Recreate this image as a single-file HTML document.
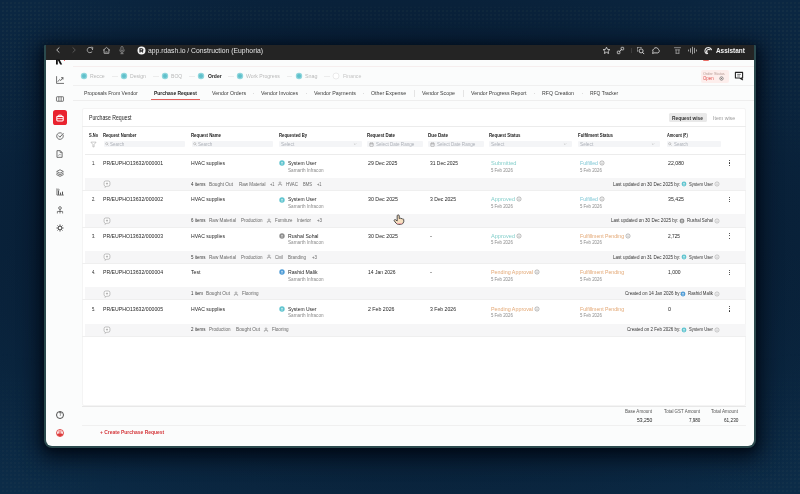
<!DOCTYPE html>
<html>
<head>
<meta charset="utf-8">
<title>Purchase Request</title>
<style>
*{box-sizing:border-box;margin:0;padding:0}
html,body{width:800px;height:494px;overflow:hidden}
body{font-family:"Liberation Sans",sans-serif;background:#0a2641;position:relative;color:#222}
#c{position:absolute;left:0;top:0;width:800px;height:494px;overflow:hidden;filter:blur(.3px)}
#bg{position:absolute;left:0;top:0;width:800px;height:494px;
 background:
  radial-gradient(ellipse 560px 330px at 400px 250px, rgba(2,12,28,.45) 0%, rgba(2,12,28,.35) 60%, rgba(2,12,28,0) 100%),
  linear-gradient(180deg,#0b2742 0%,#0b2843 50%,#0c2c48 100%);}
.dots{position:absolute;left:0;top:0;width:800px;height:494px;background-image:radial-gradient(circle,rgba(120,135,105,.30) .4px,rgba(0,0,0,0) .8px);background-size:4px 4px;background-position:1px 1px;
-webkit-mask-image:radial-gradient(circle 130px at 0 40px,#000 25%,rgba(0,0,0,0) 100%),radial-gradient(circle 130px at 800px 40px,#000 20%,rgba(0,0,0,0) 100%),radial-gradient(circle 120px at 0 470px,rgba(0,0,0,.7) 20%,rgba(0,0,0,0) 100%),radial-gradient(circle 120px at 800px 470px,rgba(0,0,0,.8) 20%,rgba(0,0,0,0) 100%),linear-gradient(180deg,rgba(0,0,0,0) 0,rgba(0,0,0,0) 6px,rgba(0,0,0,.8) 8px,rgba(0,0,0,.7) 20px,rgba(0,0,0,0) 32px);
mask-image:radial-gradient(circle 130px at 0 40px,#000 25%,rgba(0,0,0,0) 100%),radial-gradient(circle 130px at 800px 40px,#000 20%,rgba(0,0,0,0) 100%),radial-gradient(circle 120px at 0 470px,rgba(0,0,0,.7) 20%,rgba(0,0,0,0) 100%),radial-gradient(circle 120px at 800px 470px,rgba(0,0,0,.8) 20%,rgba(0,0,0,0) 100%),linear-gradient(180deg,rgba(0,0,0,0) 0,rgba(0,0,0,0) 6px,rgba(0,0,0,.8) 8px,rgba(0,0,0,.7) 20px,rgba(0,0,0,0) 32px)}
#win{position:absolute;left:44px;top:45px;width:712px;height:403px;background:#2b4a4e;border-radius:1px 1px 8px 8px;box-shadow:0 5px 20px 5px rgba(1,8,20,.85),0 2px 6px rgba(1,8,20,.6)}
#page{position:absolute;left:46px;top:59px;width:708px;height:387px;background:#fbfcfc;border-radius:0 0 6px 6px}
.t{position:absolute;white-space:nowrap;line-height:1;transform-origin:0 0}
.r{position:absolute}
svg{overflow:visible}
</style>
</head>
<body>
<div id="c">
<div id="bg"></div>
<div class="dots"></div>
<div id="win"></div>
<div id="page"></div>
<div class="r" style="left:46.00px;top:45.00px;width:708.00px;height:14.50px;background:#242424;border-radius:0px;"></div>
<svg class="r" style="left:54.40px;top:46.40px;" width="8" height="8" viewBox="-4.0 -4.0 8 8"><path d="M1.1,-2.3 L-1.3,0 L1.1,2.3" fill="none" stroke="#c8c8c8" stroke-width=".9" stroke-linecap="round" stroke-linejoin="round"/></svg>
<svg class="r" style="left:70.40px;top:46.40px;" width="8" height="8" viewBox="-4.0 -4.0 8 8"><path d="M-1.1,-2.3 L1.3,0 L-1.1,2.3" fill="none" stroke="#5c5c5c" stroke-width=".9" stroke-linecap="round" stroke-linejoin="round"/></svg>
<svg class="r" style="left:86.00px;top:46.40px;" width="8" height="8" viewBox="-4.0 -4.0 8 8"><path d="M2.6,-0.4 A2.7,2.7 0 1 0 1.9,1.9" fill="none" stroke="#c4c4c4" stroke-width=".8" stroke-linecap="round"/><path d="M1.3,-2.8 L2.8,-2.6 L2.6,-1" fill="none" stroke="#c4c4c4" stroke-width=".7" stroke-linecap="round" stroke-linejoin="round"/></svg>
<svg class="r" style="left:101.50px;top:45.90px;" width="9" height="9" viewBox="-4.5 -4.5 9 9"><path d="M-3.2,-0.3 L0,-3.1 L3.2,-0.3 M-2.4,-0.8 L-2.4,2.8 L2.4,2.8 L2.4,-0.8" fill="none" stroke="#c4c4c4" stroke-width=".8" stroke-linecap="round" stroke-linejoin="round"/><path d="M-0.7,2.8 L-0.7,1.1 L0.7,1.1 L0.7,2.8" fill="none" stroke="#b0b0b0" stroke-width=".5"/></svg>
<svg class="r" style="left:117.60px;top:45.40px;" width="8" height="10" viewBox="-4.0 -5.0 8 10"><rect x="-1.1" y="-3.5" width="2.2" height="4.4" rx="1.1" fill="none" stroke="#9c9c9c" stroke-width=".7"/><path d="M-2.3,0 A2.3,2.3 0 0 0 2.3,0 M0,2.3 L0,3.7 M-1.2,3.7 L1.2,3.7" fill="none" stroke="#9c9c9c" stroke-width=".7" stroke-linecap="round"/></svg>
<svg class="r" style="left:136.50px;top:45.90px;" width="9" height="9" viewBox="-4.5 -4.5 9 9"><circle r="4" fill="#f6f6f6"/><path d="M-1.5,1.9 L-1.5,-1.8 L0.3,-1.8 A1.1,1.1 0 0 1 0.3,0.4 L-1.5,0.4 M-0.1,0.4 L1.5,1.9" fill="none" stroke="#222" stroke-width="1.15"/></svg>
<span class="t" style="left:148.00px;top:46.55px;font-size:29.60px;color:#e4e4e4;transform:scale(0.2299,0.25)">app.rdash.io / Construction (Euphoria)</span>
<svg class="r" style="left:601.50px;top:45.90px;" width="9" height="9" viewBox="-4.5 -4.5 9 9"><path d="M0,-3.3 L1,-1.1 L3.4,-0.9 L1.6,0.7 L2.1,3 L0,1.8 L-2.1,3 L-1.6,0.7 L-3.4,-0.9 L-1,-1.1 Z" fill="none" stroke="#d6d6d6" stroke-width=".85" stroke-linejoin="round"/></svg>
<svg class="r" style="left:615.50px;top:45.90px;" width="9" height="9" viewBox="-4.5 -4.5 9 9"><rect x="-3.2" y="0.6" width="2.6" height="2.6" rx=".5" fill="none" stroke="#d6d6d6" stroke-width=".8"/><rect x="0.6" y="-3.2" width="2.6" height="2.6" rx=".5" fill="none" stroke="#d6d6d6" stroke-width=".8"/><path d="M-1,1 L1,-1" stroke="#d6d6d6" stroke-width=".9" stroke-linecap="round"/></svg>
<div class="r" style="left:630.60px;top:47.80px;width:0.50px;height:5.40px;background:#3c3c3c;border-radius:0px;"></div>
<svg class="r" style="left:635.50px;top:45.90px;" width="9" height="9" viewBox="-4.5 -4.5 9 9"><path d="M-3,-3 L1.5,-3 M-3,-3 L-3,1.5" fill="none" stroke="#d6d6d6" stroke-width=".8" stroke-dasharray="1.2 .8"/><circle cx="0.6" cy="0.4" r="2" fill="none" stroke="#d6d6d6" stroke-width=".9"/><path d="M2,1.9 L3.4,3.3" stroke="#d6d6d6" stroke-width="1" stroke-linecap="round"/></svg>
<svg class="r" style="left:650.50px;top:45.90px;" width="10" height="9" viewBox="-5.0 -4.5 10 9"><path d="M-2,2.4 L1.8,2.4 A2,2 0 0 0 2.4,-1.2 A2.6,2.6 0 0 0 -2.2,-1.6 A2,2 0 0 0 -3,1.2 L-3.4,3 Z" fill="none" stroke="#d6d6d6" stroke-width=".9" stroke-linejoin="round"/></svg>
<svg class="r" style="left:672.50px;top:45.90px;" width="9" height="9" viewBox="-4.5 -4.5 9 9"><path d="M-3,-2.8 L3,-2.8 M-2,-0.6 L2,-0.6 M-1.4,-0.6 L-1.4,2.8 M1.4,-0.6 L1.4,2.8 M-1.4,2.8 L1.4,2.8" fill="none" stroke="#a4a4a4" stroke-width=".8" stroke-linecap="round"/></svg>
<svg class="r" style="left:687.00px;top:45.90px;" width="11" height="9" viewBox="-5.5 -4.5 11 9"><path d="M-4,-0.5 L-4,0.5 M-2,-1.8 L-2,1.8 M0,-3.3 L0,3.3 M2,-2.3 L2,2.3 M4,-0.6 L4,0.6" fill="none" stroke="#bdbdbd" stroke-width=".8" stroke-linecap="round"/></svg>
<svg class="r" style="left:703.50px;top:45.90px;" width="9" height="9" viewBox="-4.5 -4.5 9 9"><path d="M-2.6,2.8 A3.4,3.4 0 1 1 3,-0.8 M-0.9,3 A2,2 0 0 1 1.4,-0.8 M-1.6,0.2 L-1.6,3.2" fill="none" stroke="#eaeaea" stroke-width="1.05" stroke-linecap="round"/></svg>
<span class="t" style="left:715.50px;top:46.76px;font-size:28.00px;color:#f2f2f2;font-weight:700;transform:scale(0.2285,0.25)">Assistant</span>
<svg class="r" style="left:55.00px;top:59.00px;" width="8" height="6" viewBox="-4.0 -3.0 8 6"><path d="M-3,-2.5 L-3,2.5 L-1.2,2.5 L-1.2,-2.5 Z M-1.2,-2.5 L0.6,-2.5 L3.2,2.5 L1.2,2.5 L-1.2,-2 Z" fill="#111"/></svg>
<div class="r" style="left:63.80px;top:59.60px;width:1.60px;height:1.60px;background:#e8323a;border-radius:1px;"></div>
<div class="r" style="left:702.50px;top:59.50px;width:6.50px;height:1.50px;background:#e9574f;border-radius:2px;border-radius:0 0 4px 4px;opacity:.85"></div>
<div class="r" style="left:73.00px;top:65.70px;width:681.00px;height:0.60px;background:#f6eeee;border-radius:0px;"></div>
<div class="r" style="left:73.00px;top:85.20px;width:681.00px;height:0.60px;background:#f0f0f0;border-radius:0px;"></div>
<div class="r" style="left:73.00px;top:99.70px;width:681.00px;height:0.60px;background:#eeeeee;border-radius:0px;"></div>
<div class="r" style="left:151.00px;top:99.40px;width:48.50px;height:1.10px;background:#e4615d;border-radius:0px;"></div>
<svg class="r" style="left:80.00px;top:72.30px;" width="8" height="8" viewBox="-4.0 -4.0 8 8"><circle r="3.2" fill="#8fd6dc"/><circle r="2" fill="#5fc0cb"/></svg>
<span class="t" style="left:90.20px;top:73.18px;font-size:24.00px;color:#b9b9b9;transform:scale(0.2146,0.25)">Recce</span>
<svg class="r" style="left:119.80px;top:72.30px;" width="8" height="8" viewBox="-4.0 -4.0 8 8"><circle r="3.2" fill="#8fd6dc"/><circle r="2" fill="#5fc0cb"/></svg>
<span class="t" style="left:130.00px;top:73.18px;font-size:24.00px;color:#b9b9b9;transform:scale(0.2115,0.25)">Design</span>
<svg class="r" style="left:161.00px;top:72.30px;" width="8" height="8" viewBox="-4.0 -4.0 8 8"><circle r="3.2" fill="#8fd6dc"/><circle r="2" fill="#5fc0cb"/></svg>
<span class="t" style="left:171.00px;top:73.18px;font-size:24.00px;color:#b9b9b9;transform:scale(0.2118,0.25)">BOQ</span>
<svg class="r" style="left:197.30px;top:72.30px;" width="8" height="8" viewBox="-4.0 -4.0 8 8"><circle r="3.2" fill="#8fd6dc"/><circle r="2" fill="#5fc0cb"/></svg>
<span class="t" style="left:207.70px;top:73.18px;font-size:24.00px;color:#1c1c1c;font-weight:700;transform:scale(0.2081,0.25)">Order</span>
<svg class="r" style="left:236.30px;top:72.30px;" width="8" height="8" viewBox="-4.0 -4.0 8 8"><circle r="3.2" fill="#8fd6dc"/><circle r="2" fill="#5fc0cb"/></svg>
<span class="t" style="left:246.20px;top:73.18px;font-size:24.00px;color:#b9b9b9;transform:scale(0.2136,0.25)">Work Progress</span>
<svg class="r" style="left:294.80px;top:72.30px;" width="8" height="8" viewBox="-4.0 -4.0 8 8"><circle r="3.2" fill="#8fd6dc"/><circle r="2" fill="#5fc0cb"/></svg>
<span class="t" style="left:305.00px;top:73.18px;font-size:24.00px;color:#b9b9b9;transform:scale(0.2230,0.25)">Snag</span>
<svg class="r" style="left:332.30px;top:72.30px;" width="8" height="8" viewBox="-4.0 -4.0 8 8"><circle r="3" fill="#fff" stroke="#e3e3e3" stroke-width=".7"/></svg>
<span class="t" style="left:342.50px;top:73.18px;font-size:24.00px;color:#c4c4c4;transform:scale(0.2143,0.25)">Finance</span>
<div class="r" style="left:112.00px;top:76.05px;width:6.00px;height:0.50px;background:#ececec;border-radius:0px;"></div>
<div class="r" style="left:153.00px;top:76.05px;width:6.00px;height:0.50px;background:#ececec;border-radius:0px;"></div>
<div class="r" style="left:189.00px;top:76.05px;width:6.00px;height:0.50px;background:#ececec;border-radius:0px;"></div>
<div class="r" style="left:228.00px;top:76.05px;width:6.00px;height:0.50px;background:#ececec;border-radius:0px;"></div>
<div class="r" style="left:287.00px;top:76.05px;width:5.00px;height:0.50px;background:#ececec;border-radius:0px;"></div>
<div class="r" style="left:324.00px;top:76.05px;width:6.00px;height:0.50px;background:#ececec;border-radius:0px;"></div>
<div class="r" style="left:701.30px;top:69.50px;width:27.50px;height:13.10px;background:#fdeeec;border-radius:2px;"></div>
<span class="t" style="left:703.20px;top:70.76px;font-size:17.20px;color:#b59a94;transform:scale(0.2236,0.25)">Order Status</span>
<span class="t" style="left:703.40px;top:75.29px;font-size:22.40px;color:#e0524f;transform:scale(0.1934,0.25)">Open</span>
<svg class="r" style="left:718.80px;top:75.80px;" width="5" height="5" viewBox="-2.5 -2.5 5 5"><circle r="1.7" fill="none" stroke="#666" stroke-width=".7"/><circle r=".6" fill="#666"/></svg>
<svg class="r" style="left:734.00px;top:71.00px;" width="10" height="10" viewBox="-5.0 -5.0 10 10"><path d="M-3.6,-3.6 L3.6,-3.6 L3.6,2 L2.2,2 L3.6,3.8 L0.6,2 L-3.6,2 Z" fill="none" stroke="#222" stroke-width="1.1" stroke-linejoin="round"/><path d="M-1.8,-1.6 L1.8,-1.6 M-1.8,0 L1,0" stroke="#444" stroke-width=".7"/></svg>
<span class="t" style="left:84.00px;top:90.18px;font-size:24.00px;color:#3a3a3a;transform:scale(0.2134,0.25)">Proposals From Vendor</span>
<span class="t" style="left:153.60px;top:90.18px;font-size:24.00px;color:#1a1a1a;font-weight:700;transform:scale(0.2053,0.25)">Purchase Request</span>
<span class="t" style="left:211.50px;top:90.18px;font-size:24.00px;color:#3a3a3a;transform:scale(0.2178,0.25)">Vendor Orders</span>
<span class="t" style="left:261.20px;top:90.18px;font-size:24.00px;color:#3a3a3a;transform:scale(0.2172,0.25)">Vendor Invoices</span>
<span class="t" style="left:314.00px;top:90.18px;font-size:24.00px;color:#3a3a3a;transform:scale(0.2206,0.25)">Vendor Payments</span>
<span class="t" style="left:371.20px;top:90.18px;font-size:24.00px;color:#3a3a3a;transform:scale(0.2192,0.25)">Other Expense</span>
<span class="t" style="left:422.00px;top:90.18px;font-size:24.00px;color:#3a3a3a;transform:scale(0.2188,0.25)">Vendor Scope</span>
<span class="t" style="left:470.50px;top:90.18px;font-size:24.00px;color:#3a3a3a;transform:scale(0.2155,0.25)">Vendor Progress Report</span>
<span class="t" style="left:542.00px;top:90.18px;font-size:24.00px;color:#3a3a3a;transform:scale(0.2161,0.25)">RFQ Creation</span>
<span class="t" style="left:589.50px;top:90.18px;font-size:24.00px;color:#3a3a3a;transform:scale(0.2046,0.25)">RFQ Tracker</span>
<div class="r" style="left:414.20px;top:90.20px;width:0.60px;height:6.40px;background:#e4e4e4;border-radius:0px;"></div>
<div class="r" style="left:463.00px;top:90.20px;width:0.60px;height:6.40px;background:#e4e4e4;border-radius:0px;"></div>
<div class="r" style="left:253.00px;top:93.00px;width:0.80px;height:0.80px;background:#ddd;border-radius:0px;"></div>
<div class="r" style="left:306.00px;top:93.00px;width:0.80px;height:0.80px;background:#ddd;border-radius:0px;"></div>
<div class="r" style="left:363.00px;top:93.00px;width:0.80px;height:0.80px;background:#ddd;border-radius:0px;"></div>
<div class="r" style="left:534.00px;top:93.00px;width:0.80px;height:0.80px;background:#ddd;border-radius:0px;"></div>
<div class="r" style="left:581.60px;top:93.00px;width:0.80px;height:0.80px;background:#ddd;border-radius:0px;"></div>
<svg class="r" style="left:54.90px;top:75.20px;" width="10" height="10" viewBox="-5.0 -5.0 10 10"><g transform="scale(0.9)"><path d="M-3.8,-3.8 L-3.8,3.8 L4,3.8" fill="none" stroke="#505050" stroke-width=".9" stroke-linecap="round" stroke-linejoin="round"/><path d="M-2.2,1.6 L-0.4,-0.6 L0.8,0.6 L3.2,-2.4 M1.6,-2.6 L3.3,-2.6 L3.3,-0.9" fill="none" stroke="#505050" stroke-width=".9" stroke-linecap="round" stroke-linejoin="round"/></g></svg>
<svg class="r" style="left:54.90px;top:95.00px;" width="10" height="8" viewBox="-5.0 -4.0 10 8"><g transform="scale(0.9)"><rect x="-3.9" y="-2.5" width="7.8" height="5" rx=".6" fill="none" stroke="#505050" stroke-width=".85"/><path d="M-1.3,-2.5 L-1.3,2.5 M1.3,-2.5 L1.3,2.5" stroke="#505050" stroke-width=".8"/></g></svg>
<div class="r" style="left:52.70px;top:110.20px;width:14.40px;height:14.60px;background:#e9232f;border-radius:2.6px;"></div>
<svg class="r" style="left:54.90px;top:112.60px;" width="10" height="10" viewBox="-5.0 -5.0 10 10"><rect x="-3.2" y="-1.6" width="6.4" height="4.6" rx=".9" fill="none" stroke="#fff" stroke-width="1.1"/><path d="M-1.3,-1.8 L-1.3,-2.9 L1.3,-2.9 L1.3,-1.8" fill="none" stroke="#fff" stroke-width=".9"/><path d="M-3,0.6 L3,0.6" stroke="#fff" stroke-width=".8"/></svg>
<svg class="r" style="left:54.90px;top:130.70px;" width="10" height="10" viewBox="-5.0 -5.0 10 10"><g transform="scale(0.9)"><path d="M3.5,-1.2 A3.7,3.7 0 1 1 1.6,-3.3" fill="none" stroke="#505050" stroke-width=".9" stroke-linecap="round"/><path d="M-1.5,-0.2 L-0.1,1.3 L3.6,-2.9" fill="none" stroke="#505050" stroke-width=".95" stroke-linecap="round" stroke-linejoin="round"/></g></svg>
<svg class="r" style="left:55.40px;top:149.20px;" width="9" height="10" viewBox="-4.5 -5.0 9 10"><g transform="scale(0.9)"><path d="M-2.8,-3.7 L0.9,-3.7 L2.9,-1.7 L2.9,3.7 L-2.8,3.7 Z" fill="none" stroke="#505050" stroke-width=".9" stroke-linejoin="round"/><path d="M0.7,-3.6 L0.7,-1.6 L2.8,-1.6" fill="none" stroke="#505050" stroke-width=".7"/><path d="M-1.4,1.9 L-0.2,0.5 L0.6,1.3 L1.5,0.3" fill="none" stroke="#505050" stroke-width=".6"/></g></svg>
<svg class="r" style="left:54.90px;top:167.50px;" width="10" height="10" viewBox="-5.0 -5.0 10 10"><g transform="scale(0.9)"><path d="M0,-3.6 L3.7,-1.7 L0,0.2 L-3.7,-1.7 Z" fill="none" stroke="#505050" stroke-width=".85" stroke-linejoin="round"/><path d="M-3.7,0.2 L0,2.1 L3.7,0.2 M-3.7,1.9 L0,3.8 L3.7,1.9" fill="none" stroke="#505050" stroke-width=".85" stroke-linejoin="round" stroke-linecap="round"/></g></svg>
<svg class="r" style="left:54.90px;top:186.60px;" width="10" height="10" viewBox="-5.0 -5.0 10 10"><g transform="scale(0.9)"><path d="M-3.4,-3.6 L-3.4,3.4 L3.8,3.4" fill="none" stroke="#505050" stroke-width=".85" stroke-linecap="round"/><path d="M-1.6,3.2 L-1.6,-1.2 M0.6,3.2 L0.6,0.6 M2.8,3.2 L2.8,-0.4" stroke="#505050" stroke-width="1.1"/><circle cx="-1.6" cy="-2.4" r=".8" fill="none" stroke="#505050" stroke-width=".6"/></g></svg>
<svg class="r" style="left:54.90px;top:204.90px;" width="10" height="10" viewBox="-5.0 -5.0 10 10"><g transform="scale(0.9)"><circle cx="0" cy="-2.2" r="1.5" fill="none" stroke="#505050" stroke-width=".85"/><path d="M0,-0.6 L0,1.6 M-2.9,3.4 L-2.9,1.6 L2.9,1.6 L2.9,3.4 M0,1.6 L0,3.4" fill="none" stroke="#505050" stroke-width=".8" stroke-linecap="round"/></g></svg>
<svg class="r" style="left:54.90px;top:223.00px;" width="10" height="10" viewBox="-5.0 -5.0 10 10"><g transform="scale(0.9)"><circle r="2" fill="none" stroke="#505050" stroke-width="1"/><path d="M2.20,0.00 L3.50,0.00" stroke="#505050" stroke-width="1.05" stroke-linecap="round"/><path d="M1.56,1.56 L2.47,2.47" stroke="#505050" stroke-width="1.05" stroke-linecap="round"/><path d="M0.00,2.20 L0.00,3.50" stroke="#505050" stroke-width="1.05" stroke-linecap="round"/><path d="M-1.56,1.56 L-2.47,2.47" stroke="#505050" stroke-width="1.05" stroke-linecap="round"/><path d="M-2.20,0.00 L-3.50,0.00" stroke="#505050" stroke-width="1.05" stroke-linecap="round"/><path d="M-1.56,-1.56 L-2.47,-2.47" stroke="#505050" stroke-width="1.05" stroke-linecap="round"/><path d="M-0.00,-2.20 L-0.00,-3.50" stroke="#505050" stroke-width="1.05" stroke-linecap="round"/><path d="M1.56,-1.56 L2.47,-2.47" stroke="#505050" stroke-width="1.05" stroke-linecap="round"/><circle r="1" fill="#fff"/></g></svg>
<svg class="r" style="left:54.90px;top:409.50px;" width="10" height="10" viewBox="-5.0 -5.0 10 10"><circle r="3.5" fill="none" stroke="#333" stroke-width=".85"/></svg>
<span class="t" style="left:58.70px;top:412.31px;font-size:18.40px;color:#333;font-weight:700;transform:scale(0.2224,0.25)">?</span>
<svg class="r" style="left:54.90px;top:428.00px;" width="10" height="10" viewBox="-5.0 -5.0 10 10"><circle r="3.5" fill="#fff" stroke="#de3a3a" stroke-width=".9"/><circle cy="-1.1" r="1.1" fill="none" stroke="#de3a3a" stroke-width=".7"/><path d="M-3.2,1.2 A3.5,3.5 0 0 0 3.2,1.2 A4,2.6 0 0 0 -3.2,1.2 Z" fill="#de3a3a"/></svg>
<div class="r" style="left:81.5px;top:107.6px;width:664.5px;height:298.4px;background:#fff;border:.6px solid #f4f4f4;border-radius:2px"></div>
<span class="t" style="left:88.50px;top:114.77px;font-size:25.60px;color:#1e1e1e;transform:scale(0.2018,0.25)">Purchase Request</span>
<div class="r" style="left:668.70px;top:112.80px;width:38.10px;height:9.50px;background:#e9e9e9;border-radius:1.6px;"></div>
<span class="t" style="left:672.00px;top:114.58px;font-size:23.20px;color:#333;font-weight:700;transform:scale(0.2091,0.25)">Request wise</span>
<span class="t" style="left:712.50px;top:114.58px;font-size:23.20px;color:#9a9a9a;transform:scale(0.2256,0.25)">Item wise</span>
<div class="r" style="left:82.00px;top:125.60px;width:663.60px;height:0.60px;background:#ececec;border-radius:0px;"></div>
<span class="t" style="left:89.20px;top:132.19px;font-size:21.60px;color:#222;font-weight:700;transform:scale(0.1870,0.25)">S.No</span>
<span class="t" style="left:103.00px;top:132.19px;font-size:21.60px;color:#222;font-weight:700;transform:scale(0.1938,0.25)">Request Number</span>
<span class="t" style="left:191.00px;top:132.19px;font-size:21.60px;color:#222;font-weight:700;transform:scale(0.1999,0.25)">Request Name</span>
<span class="t" style="left:279.00px;top:132.19px;font-size:21.60px;color:#222;font-weight:700;transform:scale(0.1958,0.25)">Requested By</span>
<span class="t" style="left:367.00px;top:132.19px;font-size:21.60px;color:#222;font-weight:700;transform:scale(0.2028,0.25)">Request Date</span>
<span class="t" style="left:428.00px;top:132.19px;font-size:21.60px;color:#222;font-weight:700;transform:scale(0.2136,0.25)">Due Date</span>
<span class="t" style="left:489.00px;top:132.19px;font-size:21.60px;color:#222;font-weight:700;transform:scale(0.2003,0.25)">Request Status</span>
<span class="t" style="left:578.00px;top:132.19px;font-size:21.60px;color:#222;font-weight:700;transform:scale(0.1998,0.25)">Fulfilment Status</span>
<span class="t" style="left:666.50px;top:132.19px;font-size:21.60px;color:#222;font-weight:700;transform:scale(0.1819,0.25)">Amount (₹)</span>
<svg class="r" style="left:90.30px;top:140.90px;" width="7" height="7" viewBox="-3.5 -3.5 7 7"><path d="M-2.6,-2.4 L2.6,-2.4 L0.6,0 L0.6,2.4 L-0.6,2.4 L-0.6,0 Z" fill="none" stroke="#aaa" stroke-width=".6" stroke-linejoin="round"/></svg>
<div class="r" style="left:103.50px;top:140.70px;width:81.50px;height:6.70px;background:#f4f5f7;border-radius:1px;"></div>
<svg class="r" style="left:104.60px;top:142.20px;" width="4" height="4" viewBox="-2.0 -2.0 4 4"><circle cx="-.3" cy="-.3" r="1.1" fill="none" stroke="#9a9a9a" stroke-width=".5"/><path d="M.6,.6 L1.5,1.5" stroke="#9a9a9a" stroke-width=".5"/></svg>
<span class="t" style="left:110.20px;top:141.39px;font-size:21.60px;color:#adb1b8;transform:scale(0.2089,0.25)">Search</span>
<div class="r" style="left:191.50px;top:140.70px;width:81.50px;height:6.70px;background:#f4f5f7;border-radius:1px;"></div>
<svg class="r" style="left:192.60px;top:142.20px;" width="4" height="4" viewBox="-2.0 -2.0 4 4"><circle cx="-.3" cy="-.3" r="1.1" fill="none" stroke="#9a9a9a" stroke-width=".5"/><path d="M.6,.6 L1.5,1.5" stroke="#9a9a9a" stroke-width=".5"/></svg>
<span class="t" style="left:198.20px;top:141.39px;font-size:21.60px;color:#adb1b8;transform:scale(0.2089,0.25)">Search</span>
<div class="r" style="left:279.00px;top:140.70px;width:82.50px;height:6.70px;background:#f4f5f7;border-radius:1px;"></div>
<span class="t" style="left:281.30px;top:141.39px;font-size:21.60px;color:#adb1b8;transform:scale(0.2199,0.25)">Select</span>
<svg class="r" style="left:352.50px;top:142.20px;" width="4" height="4" viewBox="-2.0 -2.0 4 4"><path d="M-1.1,-.5 L0,.6 L1.1,-.5" fill="none" stroke="#aaa" stroke-width=".5"/></svg>
<div class="r" style="left:367.00px;top:140.70px;width:55.50px;height:6.70px;background:#f4f5f7;border-radius:1px;"></div>
<svg class="r" style="left:369.00px;top:141.70px;" width="5" height="5" viewBox="-2.5 -2.5 5 5"><rect x="-1.7" y="-1.4" width="3.4" height="3.2" rx=".3" fill="none" stroke="#8a8a8a" stroke-width=".5"/><path d="M-1.7,-.5 L1.7,-.5 M-.8,-2 L-.8,-1.2 M.8,-2 L.8,-1.2" stroke="#8a8a8a" stroke-width=".5"/></svg>
<span class="t" style="left:376.20px;top:141.39px;font-size:21.60px;color:#adb1b8;transform:scale(0.2112,0.25)">Select Date Range</span>
<div class="r" style="left:428.00px;top:140.70px;width:55.50px;height:6.70px;background:#f4f5f7;border-radius:1px;"></div>
<svg class="r" style="left:430.00px;top:141.70px;" width="5" height="5" viewBox="-2.5 -2.5 5 5"><rect x="-1.7" y="-1.4" width="3.4" height="3.2" rx=".3" fill="none" stroke="#8a8a8a" stroke-width=".5"/><path d="M-1.7,-.5 L1.7,-.5 M-.8,-2 L-.8,-1.2 M.8,-2 L.8,-1.2" stroke="#8a8a8a" stroke-width=".5"/></svg>
<span class="t" style="left:437.20px;top:141.39px;font-size:21.60px;color:#adb1b8;transform:scale(0.2112,0.25)">Select Date Range</span>
<div class="r" style="left:489.00px;top:140.70px;width:82.50px;height:6.70px;background:#f4f5f7;border-radius:1px;"></div>
<span class="t" style="left:491.30px;top:141.39px;font-size:21.60px;color:#adb1b8;transform:scale(0.2199,0.25)">Select</span>
<svg class="r" style="left:563.00px;top:142.20px;" width="4" height="4" viewBox="-2.0 -2.0 4 4"><path d="M-1.1,-.5 L0,.6 L1.1,-.5" fill="none" stroke="#aaa" stroke-width=".5"/></svg>
<div class="r" style="left:578.00px;top:140.70px;width:81.50px;height:6.70px;background:#f4f5f7;border-radius:1px;"></div>
<span class="t" style="left:580.30px;top:141.39px;font-size:21.60px;color:#adb1b8;transform:scale(0.2199,0.25)">Select</span>
<svg class="r" style="left:651.00px;top:142.20px;" width="4" height="4" viewBox="-2.0 -2.0 4 4"><path d="M-1.1,-.5 L0,.6 L1.1,-.5" fill="none" stroke="#aaa" stroke-width=".5"/></svg>
<div class="r" style="left:667.00px;top:140.70px;width:54.00px;height:6.70px;background:#f4f5f7;border-radius:1px;"></div>
<svg class="r" style="left:668.20px;top:142.20px;" width="4" height="4" viewBox="-2.0 -2.0 4 4"><circle cx="-.3" cy="-.3" r="1.1" fill="none" stroke="#9a9a9a" stroke-width=".5"/><path d="M.6,.6 L1.5,1.5" stroke="#9a9a9a" stroke-width=".5"/></svg>
<span class="t" style="left:673.60px;top:141.39px;font-size:21.60px;color:#adb1b8;transform:scale(0.2046,0.25)">Search</span>
<div class="r" style="left:84.50px;top:154.10px;width:661.10px;height:0.60px;background:#ececec;border-radius:0px;"></div>
<div class="r" style="left:85.00px;top:177.70px;width:660.60px;height:12.50px;background:#f6f6f7;border-radius:0px;"></div>
<div class="r" style="left:82.00px;top:190.10px;width:663.60px;height:0.60px;background:#efefef;border-radius:0px;"></div>
<span class="t" style="left:92.00px;top:159.88px;font-size:24.00px;color:#1f1f1f;transform:scale(0.1749,0.25)">1.</span>
<span class="t" style="left:103.00px;top:159.88px;font-size:24.00px;color:#1f1f1f;transform:scale(0.2152,0.25)">PR/EUPHO13632/000001</span>
<span class="t" style="left:191.00px;top:159.88px;font-size:24.00px;color:#1f1f1f;transform:scale(0.2130,0.25)">HVAC supplies</span>
<svg class="r" style="left:279.30px;top:160.10px;" width="6" height="6" viewBox="-3.0 -3.0 6 6"><circle r="2.7" fill="#5fc4cf"/><circle cy="-.5" r=".7" fill="#fff" opacity=".85"/><path d="M-1.2,1.3 A1.3,1.1 0 0 1 1.2,1.3 Z" fill="#fff" opacity=".85"/></svg>
<span class="t" style="left:288.00px;top:159.88px;font-size:24.00px;color:#1f1f1f;transform:scale(0.2075,0.25)">System User</span>
<span class="t" style="left:288.00px;top:167.50px;font-size:20.00px;color:#8a8a8a;transform:scale(0.2321,0.25)">Samarth Infracon</span>
<span class="t" style="left:368.00px;top:159.88px;font-size:24.00px;color:#1f1f1f;transform:scale(0.2167,0.25)">29 Dec 2025</span>
<span class="t" style="left:430.00px;top:159.88px;font-size:24.00px;color:#1f1f1f;transform:scale(0.2057,0.25)">31 Dec 2025</span>
<span class="t" style="left:491.00px;top:159.88px;font-size:24.00px;color:#84cfcb;transform:scale(0.2360,0.25)">Submitted</span>
<span class="t" style="left:491.20px;top:167.50px;font-size:20.00px;color:#8a8a8a;transform:scale(0.2154,0.25)">5 Feb 2026</span>
<span class="t" style="left:580.00px;top:159.88px;font-size:24.00px;color:#80c8d6;transform:scale(0.2176,0.25)">Fulfilled</span>
<svg class="r" style="left:598.60px;top:160.00px;" width="6" height="6" viewBox="-3.0 -3.0 6 6"><circle r="2.1" fill="none" stroke="#777" stroke-width=".5"/><path d="M0,-.3 L0,1.1" stroke="#777" stroke-width=".55"/><circle cy="-1.05" r=".32" fill="#777"/></svg>
<span class="t" style="left:580.00px;top:167.50px;font-size:20.00px;color:#8a8a8a;transform:scale(0.2154,0.25)">5 Feb 2026</span>
<span class="t" style="left:668.00px;top:159.88px;font-size:24.00px;color:#1f1f1f;transform:scale(0.2180,0.25)">22,080</span>
<div class="r" style="left:728.70px;top:160.25px;width:1.20px;height:1.10px;background:#222;border-radius:0.6px;"></div>
<div class="r" style="left:728.70px;top:162.45px;width:1.20px;height:1.10px;background:#222;border-radius:0.6px;"></div>
<div class="r" style="left:728.70px;top:164.65px;width:1.20px;height:1.10px;background:#222;border-radius:0.6px;"></div>
<svg class="r" style="left:102.50px;top:180.40px;" width="8" height="8" viewBox="-4.0 -4.0 8 8"><path d="M-1.3,-3 L1.3,-3 A1.6,1.6 0 0 1 2.9,-1.4 L2.9,0.6 A1.6,1.6 0 0 1 1.3,2.2 L-0.6,2.2 L-1.8,3.4 L-1.7,2.1 A1.6,1.6 0 0 1 -2.9,0.6 L-2.9,-1.4 A1.6,1.6 0 0 1 -1.3,-3 Z" fill="#fff" stroke="#8c8c8c" stroke-width=".55" stroke-linejoin="round"/><path d="M0,-1.5 L0,.7 M-1.1,-.4 L1.1,-.4" stroke="#8c8c8c" stroke-width=".55"/></svg>
<span class="t" style="left:191.00px;top:181.65px;font-size:19.60px;color:#333;transform:scale(0.2295,0.25)">4 items</span>
<span class="t" style="left:209.00px;top:181.65px;font-size:19.60px;color:#666;transform:scale(0.2420,0.25)">Bought Out</span>
<span class="t" style="left:238.50px;top:181.65px;font-size:19.60px;color:#666;transform:scale(0.2317,0.25)">Raw Material</span>
<span class="t" style="left:269.50px;top:181.65px;font-size:19.60px;color:#666;transform:scale(0.2014,0.25)">+1</span>
<svg class="r" style="left:276.50px;top:181.20px;" width="6" height="6" viewBox="-3.0 -3.0 6 6"><circle cy="-1.4" r=".8" fill="none" stroke="#777" stroke-width=".5"/><path d="M0,-.6 L0,.4 M-1.6,1.8 L-1.6,.4 L1.6,.4 L1.6,1.8" fill="none" stroke="#777" stroke-width=".5"/></svg>
<span class="t" style="left:285.50px;top:181.65px;font-size:19.60px;color:#666;transform:scale(0.2264,0.25)">HVAC</span>
<span class="t" style="left:303.00px;top:181.65px;font-size:19.60px;color:#666;transform:scale(0.2119,0.25)">BMS</span>
<span class="t" style="left:317.00px;top:181.65px;font-size:19.60px;color:#666;transform:scale(0.2014,0.25)">+1</span>
<span class="t" style="left:613.00px;top:181.65px;font-size:19.60px;color:#333;transform:scale(0.2334,0.25)">Last updated on 30 Dec 2025 by:</span>
<svg class="r" style="left:681.30px;top:181.20px;" width="6" height="6" viewBox="-3.0 -3.0 6 6"><circle r="2.4" fill="#5fc4cf"/><circle cy="-.5" r=".7" fill="#fff" opacity=".85"/><path d="M-1.2,1.3 A1.3,1.1 0 0 1 1.2,1.3 Z" fill="#fff" opacity=".85"/></svg>
<span class="t" style="left:689.00px;top:181.65px;font-size:19.60px;color:#333;transform:scale(0.2139,0.25)">System User</span>
<svg class="r" style="left:714.20px;top:181.20px;" width="6" height="6" viewBox="-3.0 -3.0 6 6"><circle r="2.1" fill="none" stroke="#999" stroke-width=".5"/><path d="M0,-.3 L0,1.1" stroke="#999" stroke-width=".55"/><circle cy="-1.05" r=".32" fill="#999"/></svg>
<div class="r" style="left:85.00px;top:214.15px;width:660.60px;height:12.50px;background:#f6f6f7;border-radius:0px;"></div>
<div class="r" style="left:82.00px;top:226.55px;width:663.60px;height:0.60px;background:#efefef;border-radius:0px;"></div>
<span class="t" style="left:92.00px;top:196.33px;font-size:24.00px;color:#1f1f1f;transform:scale(0.1749,0.25)">2.</span>
<span class="t" style="left:103.00px;top:196.33px;font-size:24.00px;color:#1f1f1f;transform:scale(0.2152,0.25)">PR/EUPHO13632/000002</span>
<span class="t" style="left:191.00px;top:196.33px;font-size:24.00px;color:#1f1f1f;transform:scale(0.2130,0.25)">HVAC supplies</span>
<svg class="r" style="left:279.30px;top:196.55px;" width="6" height="6" viewBox="-3.0 -3.0 6 6"><circle r="2.7" fill="#5fc4cf"/><circle cy="-.5" r=".7" fill="#fff" opacity=".85"/><path d="M-1.2,1.3 A1.3,1.1 0 0 1 1.2,1.3 Z" fill="#fff" opacity=".85"/></svg>
<span class="t" style="left:288.00px;top:196.33px;font-size:24.00px;color:#1f1f1f;transform:scale(0.2075,0.25)">System User</span>
<span class="t" style="left:288.00px;top:203.95px;font-size:20.00px;color:#8a8a8a;transform:scale(0.2321,0.25)">Samarth Infracon</span>
<span class="t" style="left:368.00px;top:196.33px;font-size:24.00px;color:#1f1f1f;transform:scale(0.2204,0.25)">30 Dec 2025</span>
<span class="t" style="left:430.00px;top:196.33px;font-size:24.00px;color:#1f1f1f;transform:scale(0.2118,0.25)">3 Dec 2025</span>
<span class="t" style="left:491.00px;top:196.33px;font-size:24.00px;color:#84cfcb;transform:scale(0.2336,0.25)">Approved</span>
<svg class="r" style="left:515.60px;top:196.45px;" width="6" height="6" viewBox="-3.0 -3.0 6 6"><circle r="2.1" fill="none" stroke="#777" stroke-width=".5"/><path d="M0,-.3 L0,1.1" stroke="#777" stroke-width=".55"/><circle cy="-1.05" r=".32" fill="#777"/></svg>
<span class="t" style="left:491.20px;top:203.95px;font-size:20.00px;color:#8a8a8a;transform:scale(0.2154,0.25)">5 Feb 2026</span>
<span class="t" style="left:580.00px;top:196.33px;font-size:24.00px;color:#80c8d6;transform:scale(0.2176,0.25)">Fulfilled</span>
<svg class="r" style="left:598.60px;top:196.45px;" width="6" height="6" viewBox="-3.0 -3.0 6 6"><circle r="2.1" fill="none" stroke="#777" stroke-width=".5"/><path d="M0,-.3 L0,1.1" stroke="#777" stroke-width=".55"/><circle cy="-1.05" r=".32" fill="#777"/></svg>
<span class="t" style="left:580.00px;top:203.95px;font-size:20.00px;color:#8a8a8a;transform:scale(0.2154,0.25)">5 Feb 2026</span>
<span class="t" style="left:668.00px;top:196.33px;font-size:24.00px;color:#1f1f1f;transform:scale(0.2180,0.25)">35,425</span>
<div class="r" style="left:728.70px;top:196.70px;width:1.20px;height:1.10px;background:#222;border-radius:0.6px;"></div>
<div class="r" style="left:728.70px;top:198.90px;width:1.20px;height:1.10px;background:#222;border-radius:0.6px;"></div>
<div class="r" style="left:728.70px;top:201.10px;width:1.20px;height:1.10px;background:#222;border-radius:0.6px;"></div>
<svg class="r" style="left:102.50px;top:216.85px;" width="8" height="8" viewBox="-4.0 -4.0 8 8"><path d="M-1.3,-3 L1.3,-3 A1.6,1.6 0 0 1 2.9,-1.4 L2.9,0.6 A1.6,1.6 0 0 1 1.3,2.2 L-0.6,2.2 L-1.8,3.4 L-1.7,2.1 A1.6,1.6 0 0 1 -2.9,0.6 L-2.9,-1.4 A1.6,1.6 0 0 1 -1.3,-3 Z" fill="#fff" stroke="#8c8c8c" stroke-width=".55" stroke-linejoin="round"/><path d="M0,-1.5 L0,.7 M-1.1,-.4 L1.1,-.4" stroke="#8c8c8c" stroke-width=".55"/></svg>
<span class="t" style="left:191.00px;top:218.10px;font-size:19.60px;color:#333;transform:scale(0.2295,0.25)">6 items</span>
<span class="t" style="left:209.00px;top:218.10px;font-size:19.60px;color:#666;transform:scale(0.2361,0.25)">Raw Material</span>
<span class="t" style="left:241.00px;top:218.10px;font-size:19.60px;color:#666;transform:scale(0.2294,0.25)">Production</span>
<svg class="r" style="left:265.50px;top:217.65px;" width="6" height="6" viewBox="-3.0 -3.0 6 6"><circle cy="-1.4" r=".8" fill="none" stroke="#777" stroke-width=".5"/><path d="M0,-.6 L0,.4 M-1.6,1.8 L-1.6,.4 L1.6,.4 L1.6,1.8" fill="none" stroke="#777" stroke-width=".5"/></svg>
<span class="t" style="left:274.50px;top:218.10px;font-size:19.60px;color:#666;transform:scale(0.2231,0.25)">Furniture</span>
<span class="t" style="left:297.00px;top:218.10px;font-size:19.60px;color:#666;transform:scale(0.2295,0.25)">Interior</span>
<span class="t" style="left:316.50px;top:218.10px;font-size:19.60px;color:#666;transform:scale(0.2237,0.25)">+3</span>
<span class="t" style="left:611.00px;top:218.10px;font-size:19.60px;color:#333;transform:scale(0.2334,0.25)">Last updated on 30 Dec 2025 by:</span>
<svg class="r" style="left:679.30px;top:217.65px;" width="6" height="6" viewBox="-3.0 -3.0 6 6"><circle r="2.4" fill="#8d8d8d"/><circle cy="-.5" r=".7" fill="#fff" opacity=".85"/><path d="M-1.2,1.3 A1.3,1.1 0 0 1 1.2,1.3 Z" fill="#fff" opacity=".85"/></svg>
<span class="t" style="left:687.00px;top:218.10px;font-size:19.60px;color:#333;transform:scale(0.2230,0.25)">Rushal Sohal</span>
<svg class="r" style="left:714.20px;top:217.65px;" width="6" height="6" viewBox="-3.0 -3.0 6 6"><circle r="2.1" fill="none" stroke="#999" stroke-width=".5"/><path d="M0,-.3 L0,1.1" stroke="#999" stroke-width=".55"/><circle cy="-1.05" r=".32" fill="#999"/></svg>
<div class="r" style="left:85.00px;top:250.60px;width:660.60px;height:12.50px;background:#f6f6f7;border-radius:0px;"></div>
<div class="r" style="left:82.00px;top:263.00px;width:663.60px;height:0.60px;background:#efefef;border-radius:0px;"></div>
<span class="t" style="left:92.00px;top:232.78px;font-size:24.00px;color:#1f1f1f;transform:scale(0.1749,0.25)">3.</span>
<span class="t" style="left:103.00px;top:232.78px;font-size:24.00px;color:#1f1f1f;transform:scale(0.2152,0.25)">PR/EUPHO13632/000003</span>
<span class="t" style="left:191.00px;top:232.78px;font-size:24.00px;color:#1f1f1f;transform:scale(0.2130,0.25)">HVAC supplies</span>
<svg class="r" style="left:279.30px;top:233.00px;" width="6" height="6" viewBox="-3.0 -3.0 6 6"><circle r="2.7" fill="#8d8d8d"/><circle cy="-.5" r=".7" fill="#fff" opacity=".85"/><path d="M-1.2,1.3 A1.3,1.1 0 0 1 1.2,1.3 Z" fill="#fff" opacity=".85"/></svg>
<span class="t" style="left:288.00px;top:232.78px;font-size:24.00px;color:#1f1f1f;transform:scale(0.2136,0.25)">Rushal Sohal</span>
<span class="t" style="left:288.00px;top:240.40px;font-size:20.00px;color:#8a8a8a;transform:scale(0.2321,0.25)">Samarth Infracon</span>
<span class="t" style="left:368.00px;top:232.78px;font-size:24.00px;color:#1f1f1f;transform:scale(0.2204,0.25)">30 Dec 2025</span>
<span class="t" style="left:430.00px;top:232.78px;font-size:24.00px;color:#1f1f1f;transform:scale(0.2502,0.25)">-</span>
<span class="t" style="left:491.00px;top:232.78px;font-size:24.00px;color:#84cfcb;transform:scale(0.2336,0.25)">Approved</span>
<svg class="r" style="left:515.60px;top:232.90px;" width="6" height="6" viewBox="-3.0 -3.0 6 6"><circle r="2.1" fill="none" stroke="#777" stroke-width=".5"/><path d="M0,-.3 L0,1.1" stroke="#777" stroke-width=".55"/><circle cy="-1.05" r=".32" fill="#777"/></svg>
<span class="t" style="left:491.20px;top:240.40px;font-size:20.00px;color:#8a8a8a;transform:scale(0.2154,0.25)">5 Feb 2026</span>
<span class="t" style="left:580.00px;top:232.78px;font-size:24.00px;color:#e3a774;transform:scale(0.2156,0.25)">Fulfillment Pending</span>
<svg class="r" style="left:624.60px;top:232.90px;" width="6" height="6" viewBox="-3.0 -3.0 6 6"><circle r="2.1" fill="none" stroke="#777" stroke-width=".5"/><path d="M0,-.3 L0,1.1" stroke="#777" stroke-width=".55"/><circle cy="-1.05" r=".32" fill="#777"/></svg>
<span class="t" style="left:580.00px;top:240.40px;font-size:20.00px;color:#8a8a8a;transform:scale(0.2154,0.25)">5 Feb 2026</span>
<span class="t" style="left:668.00px;top:232.78px;font-size:24.00px;color:#1f1f1f;transform:scale(0.1998,0.25)">2,725</span>
<div class="r" style="left:728.70px;top:233.15px;width:1.20px;height:1.10px;background:#222;border-radius:0.6px;"></div>
<div class="r" style="left:728.70px;top:235.35px;width:1.20px;height:1.10px;background:#222;border-radius:0.6px;"></div>
<div class="r" style="left:728.70px;top:237.55px;width:1.20px;height:1.10px;background:#222;border-radius:0.6px;"></div>
<svg class="r" style="left:102.50px;top:253.30px;" width="8" height="8" viewBox="-4.0 -4.0 8 8"><path d="M-1.3,-3 L1.3,-3 A1.6,1.6 0 0 1 2.9,-1.4 L2.9,0.6 A1.6,1.6 0 0 1 1.3,2.2 L-0.6,2.2 L-1.8,3.4 L-1.7,2.1 A1.6,1.6 0 0 1 -2.9,0.6 L-2.9,-1.4 A1.6,1.6 0 0 1 -1.3,-3 Z" fill="#fff" stroke="#8c8c8c" stroke-width=".55" stroke-linejoin="round"/><path d="M0,-1.5 L0,.7 M-1.1,-.4 L1.1,-.4" stroke="#8c8c8c" stroke-width=".55"/></svg>
<span class="t" style="left:191.00px;top:254.55px;font-size:19.60px;color:#333;transform:scale(0.2295,0.25)">5 items</span>
<span class="t" style="left:209.00px;top:254.55px;font-size:19.60px;color:#666;transform:scale(0.2361,0.25)">Raw Material</span>
<span class="t" style="left:241.00px;top:254.55px;font-size:19.60px;color:#666;transform:scale(0.2294,0.25)">Production</span>
<svg class="r" style="left:265.50px;top:254.10px;" width="6" height="6" viewBox="-3.0 -3.0 6 6"><circle cy="-1.4" r=".8" fill="none" stroke="#777" stroke-width=".5"/><path d="M0,-.6 L0,.4 M-1.6,1.8 L-1.6,.4 L1.6,.4 L1.6,1.8" fill="none" stroke="#777" stroke-width=".5"/></svg>
<span class="t" style="left:274.50px;top:254.55px;font-size:19.60px;color:#666;transform:scale(0.2161,0.25)">Civil</span>
<span class="t" style="left:288.00px;top:254.55px;font-size:19.60px;color:#666;transform:scale(0.2294,0.25)">Branding</span>
<span class="t" style="left:311.50px;top:254.55px;font-size:19.60px;color:#666;transform:scale(0.2237,0.25)">+3</span>
<span class="t" style="left:613.00px;top:254.55px;font-size:19.60px;color:#333;transform:scale(0.2334,0.25)">Last updated on 31 Dec 2025 by:</span>
<svg class="r" style="left:681.30px;top:254.10px;" width="6" height="6" viewBox="-3.0 -3.0 6 6"><circle r="2.4" fill="#5fc4cf"/><circle cy="-.5" r=".7" fill="#fff" opacity=".85"/><path d="M-1.2,1.3 A1.3,1.1 0 0 1 1.2,1.3 Z" fill="#fff" opacity=".85"/></svg>
<span class="t" style="left:689.00px;top:254.55px;font-size:19.60px;color:#333;transform:scale(0.2139,0.25)">System User</span>
<svg class="r" style="left:714.20px;top:254.10px;" width="6" height="6" viewBox="-3.0 -3.0 6 6"><circle r="2.1" fill="none" stroke="#999" stroke-width=".5"/><path d="M0,-.3 L0,1.1" stroke="#999" stroke-width=".55"/><circle cy="-1.05" r=".32" fill="#999"/></svg>
<div class="r" style="left:85.00px;top:287.05px;width:660.60px;height:12.50px;background:#f6f6f7;border-radius:0px;"></div>
<div class="r" style="left:82.00px;top:299.45px;width:663.60px;height:0.60px;background:#efefef;border-radius:0px;"></div>
<span class="t" style="left:92.00px;top:269.23px;font-size:24.00px;color:#1f1f1f;transform:scale(0.1749,0.25)">4.</span>
<span class="t" style="left:103.00px;top:269.23px;font-size:24.00px;color:#1f1f1f;transform:scale(0.2152,0.25)">PR/EUPHO13632/000004</span>
<span class="t" style="left:191.00px;top:269.23px;font-size:24.00px;color:#1f1f1f;transform:scale(0.2158,0.25)">Test</span>
<svg class="r" style="left:279.30px;top:269.45px;" width="6" height="6" viewBox="-3.0 -3.0 6 6"><circle r="2.7" fill="#4d9bd6"/><circle cy="-.5" r=".7" fill="#fff" opacity=".85"/><path d="M-1.2,1.3 A1.3,1.1 0 0 1 1.2,1.3 Z" fill="#fff" opacity=".85"/></svg>
<span class="t" style="left:288.00px;top:269.23px;font-size:24.00px;color:#1f1f1f;transform:scale(0.2147,0.25)">Rashid Malik</span>
<span class="t" style="left:288.00px;top:276.85px;font-size:20.00px;color:#8a8a8a;transform:scale(0.2321,0.25)">Samarth Infracon</span>
<span class="t" style="left:368.00px;top:269.23px;font-size:24.00px;color:#1f1f1f;transform:scale(0.2081,0.25)">14 Jan 2026</span>
<span class="t" style="left:430.00px;top:269.23px;font-size:24.00px;color:#1f1f1f;transform:scale(0.2502,0.25)">-</span>
<span class="t" style="left:491.00px;top:269.23px;font-size:24.00px;color:#e3a774;transform:scale(0.2232,0.25)">Pending Approval</span>
<svg class="r" style="left:533.60px;top:269.35px;" width="6" height="6" viewBox="-3.0 -3.0 6 6"><circle r="2.1" fill="none" stroke="#777" stroke-width=".5"/><path d="M0,-.3 L0,1.1" stroke="#777" stroke-width=".55"/><circle cy="-1.05" r=".32" fill="#777"/></svg>
<span class="t" style="left:491.20px;top:276.85px;font-size:20.00px;color:#8a8a8a;transform:scale(0.2154,0.25)">5 Feb 2026</span>
<span class="t" style="left:580.00px;top:269.23px;font-size:24.00px;color:#e3a774;transform:scale(0.2156,0.25)">Fulfillment Pending</span>
<span class="t" style="left:580.00px;top:276.85px;font-size:20.00px;color:#8a8a8a;transform:scale(0.2154,0.25)">5 Feb 2026</span>
<span class="t" style="left:668.00px;top:269.23px;font-size:24.00px;color:#1f1f1f;transform:scale(0.2081,0.25)">1,000</span>
<div class="r" style="left:728.70px;top:269.60px;width:1.20px;height:1.10px;background:#222;border-radius:0.6px;"></div>
<div class="r" style="left:728.70px;top:271.80px;width:1.20px;height:1.10px;background:#222;border-radius:0.6px;"></div>
<div class="r" style="left:728.70px;top:274.00px;width:1.20px;height:1.10px;background:#222;border-radius:0.6px;"></div>
<svg class="r" style="left:102.50px;top:289.75px;" width="8" height="8" viewBox="-4.0 -4.0 8 8"><path d="M-1.3,-3 L1.3,-3 A1.6,1.6 0 0 1 2.9,-1.4 L2.9,0.6 A1.6,1.6 0 0 1 1.3,2.2 L-0.6,2.2 L-1.8,3.4 L-1.7,2.1 A1.6,1.6 0 0 1 -2.9,0.6 L-2.9,-1.4 A1.6,1.6 0 0 1 -1.3,-3 Z" fill="#fff" stroke="#8c8c8c" stroke-width=".55" stroke-linejoin="round"/><path d="M0,-1.5 L0,.7 M-1.1,-.4 L1.1,-.4" stroke="#8c8c8c" stroke-width=".55"/></svg>
<span class="t" style="left:191.00px;top:291.00px;font-size:19.60px;color:#333;transform:scale(0.2248,0.25)">1 item</span>
<span class="t" style="left:206.00px;top:291.00px;font-size:19.60px;color:#666;transform:scale(0.2420,0.25)">Bought Out</span>
<svg class="r" style="left:232.50px;top:290.55px;" width="6" height="6" viewBox="-3.0 -3.0 6 6"><circle cy="-1.4" r=".8" fill="none" stroke="#777" stroke-width=".5"/><path d="M0,-.6 L0,.4 M-1.6,1.8 L-1.6,.4 L1.6,.4 L1.6,1.8" fill="none" stroke="#777" stroke-width=".5"/></svg>
<span class="t" style="left:241.50px;top:291.00px;font-size:19.60px;color:#666;transform:scale(0.2330,0.25)">Flooring</span>
<span class="t" style="left:624.50px;top:291.00px;font-size:19.60px;color:#333;transform:scale(0.2311,0.25)">Created on 14 Jan 2026 by:</span>
<svg class="r" style="left:680.30px;top:290.55px;" width="6" height="6" viewBox="-3.0 -3.0 6 6"><circle r="2.4" fill="#4d9bd6"/><circle cy="-.5" r=".7" fill="#fff" opacity=".85"/><path d="M-1.2,1.3 A1.3,1.1 0 0 1 1.2,1.3 Z" fill="#fff" opacity=".85"/></svg>
<span class="t" style="left:688.00px;top:291.00px;font-size:19.60px;color:#333;transform:scale(0.2228,0.25)">Rashid Malik</span>
<svg class="r" style="left:714.20px;top:290.55px;" width="6" height="6" viewBox="-3.0 -3.0 6 6"><circle r="2.1" fill="none" stroke="#999" stroke-width=".5"/><path d="M0,-.3 L0,1.1" stroke="#999" stroke-width=".55"/><circle cy="-1.05" r=".32" fill="#999"/></svg>
<div class="r" style="left:85.00px;top:323.50px;width:660.60px;height:12.50px;background:#f6f6f7;border-radius:0px;"></div>
<div class="r" style="left:82.00px;top:335.90px;width:663.60px;height:0.60px;background:#efefef;border-radius:0px;"></div>
<span class="t" style="left:92.00px;top:305.68px;font-size:24.00px;color:#1f1f1f;transform:scale(0.1749,0.25)">5.</span>
<span class="t" style="left:103.00px;top:305.68px;font-size:24.00px;color:#1f1f1f;transform:scale(0.2152,0.25)">PR/EUPHO13632/000005</span>
<span class="t" style="left:191.00px;top:305.68px;font-size:24.00px;color:#1f1f1f;transform:scale(0.2130,0.25)">HVAC supplies</span>
<svg class="r" style="left:279.30px;top:305.90px;" width="6" height="6" viewBox="-3.0 -3.0 6 6"><circle r="2.7" fill="#5fc4cf"/><circle cy="-.5" r=".7" fill="#fff" opacity=".85"/><path d="M-1.2,1.3 A1.3,1.1 0 0 1 1.2,1.3 Z" fill="#fff" opacity=".85"/></svg>
<span class="t" style="left:288.00px;top:305.68px;font-size:24.00px;color:#1f1f1f;transform:scale(0.2075,0.25)">System User</span>
<span class="t" style="left:288.00px;top:313.30px;font-size:20.00px;color:#8a8a8a;transform:scale(0.2321,0.25)">Samarth Infracon</span>
<span class="t" style="left:368.00px;top:305.68px;font-size:24.00px;color:#1f1f1f;transform:scale(0.2182,0.25)">2 Feb 2026</span>
<span class="t" style="left:430.00px;top:305.68px;font-size:24.00px;color:#1f1f1f;transform:scale(0.2141,0.25)">3 Feb 2026</span>
<span class="t" style="left:491.00px;top:305.68px;font-size:24.00px;color:#e3a774;transform:scale(0.2232,0.25)">Pending Approval</span>
<svg class="r" style="left:533.60px;top:305.80px;" width="6" height="6" viewBox="-3.0 -3.0 6 6"><circle r="2.1" fill="none" stroke="#777" stroke-width=".5"/><path d="M0,-.3 L0,1.1" stroke="#777" stroke-width=".55"/><circle cy="-1.05" r=".32" fill="#777"/></svg>
<span class="t" style="left:491.20px;top:313.30px;font-size:20.00px;color:#8a8a8a;transform:scale(0.2154,0.25)">5 Feb 2026</span>
<span class="t" style="left:580.00px;top:305.68px;font-size:24.00px;color:#e3a774;transform:scale(0.2156,0.25)">Fulfillment Pending</span>
<span class="t" style="left:580.00px;top:313.30px;font-size:20.00px;color:#8a8a8a;transform:scale(0.2154,0.25)">5 Feb 2026</span>
<span class="t" style="left:668.00px;top:305.68px;font-size:24.00px;color:#1f1f1f;transform:scale(0.2248,0.25)">0</span>
<div class="r" style="left:728.70px;top:306.05px;width:1.20px;height:1.10px;background:#222;border-radius:0.6px;"></div>
<div class="r" style="left:728.70px;top:308.25px;width:1.20px;height:1.10px;background:#222;border-radius:0.6px;"></div>
<div class="r" style="left:728.70px;top:310.45px;width:1.20px;height:1.10px;background:#222;border-radius:0.6px;"></div>
<svg class="r" style="left:102.50px;top:326.20px;" width="8" height="8" viewBox="-4.0 -4.0 8 8"><path d="M-1.3,-3 L1.3,-3 A1.6,1.6 0 0 1 2.9,-1.4 L2.9,0.6 A1.6,1.6 0 0 1 1.3,2.2 L-0.6,2.2 L-1.8,3.4 L-1.7,2.1 A1.6,1.6 0 0 1 -2.9,0.6 L-2.9,-1.4 A1.6,1.6 0 0 1 -1.3,-3 Z" fill="#fff" stroke="#8c8c8c" stroke-width=".55" stroke-linejoin="round"/><path d="M0,-1.5 L0,.7 M-1.1,-.4 L1.1,-.4" stroke="#8c8c8c" stroke-width=".55"/></svg>
<span class="t" style="left:191.00px;top:327.45px;font-size:19.60px;color:#333;transform:scale(0.2295,0.25)">2 items</span>
<span class="t" style="left:209.00px;top:327.45px;font-size:19.60px;color:#666;transform:scale(0.2294,0.25)">Production</span>
<span class="t" style="left:236.00px;top:327.45px;font-size:19.60px;color:#666;transform:scale(0.2420,0.25)">Bought Out</span>
<svg class="r" style="left:262.50px;top:327.00px;" width="6" height="6" viewBox="-3.0 -3.0 6 6"><circle cy="-1.4" r=".8" fill="none" stroke="#777" stroke-width=".5"/><path d="M0,-.6 L0,.4 M-1.6,1.8 L-1.6,.4 L1.6,.4 L1.6,1.8" fill="none" stroke="#777" stroke-width=".5"/></svg>
<span class="t" style="left:271.50px;top:327.45px;font-size:19.60px;color:#666;transform:scale(0.2330,0.25)">Flooring</span>
<span class="t" style="left:627.00px;top:327.45px;font-size:19.60px;color:#333;transform:scale(0.2290,0.25)">Created on 2 Feb 2026 by:</span>
<svg class="r" style="left:681.30px;top:327.00px;" width="6" height="6" viewBox="-3.0 -3.0 6 6"><circle r="2.4" fill="#5fc4cf"/><circle cy="-.5" r=".7" fill="#fff" opacity=".85"/><path d="M-1.2,1.3 A1.3,1.1 0 0 1 1.2,1.3 Z" fill="#fff" opacity=".85"/></svg>
<span class="t" style="left:689.00px;top:327.45px;font-size:19.60px;color:#333;transform:scale(0.2139,0.25)">System User</span>
<svg class="r" style="left:714.20px;top:327.00px;" width="6" height="6" viewBox="-3.0 -3.0 6 6"><circle r="2.1" fill="none" stroke="#999" stroke-width=".5"/><path d="M0,-.3 L0,1.1" stroke="#999" stroke-width=".55"/><circle cy="-1.05" r=".32" fill="#999"/></svg>
<div class="r" style="left:82.00px;top:405.90px;width:663.60px;height:0.60px;background:#e8e8e8;border-radius:0px;"></div>
<div class="r" style="left:82.00px;top:425.20px;width:663.60px;height:0.60px;background:#f0f0f0;border-radius:0px;"></div>
<span class="t" style="left:625.40px;top:408.65px;font-size:19.60px;color:#555;transform:scale(0.2316,0.25)">Base Amount</span>
<span class="t" style="left:637.00px;top:416.58px;font-size:23.20px;color:#1f1f1f;transform:scale(0.2170,0.25)">53,250</span>
<span class="t" style="left:664.00px;top:408.65px;font-size:19.60px;color:#555;transform:scale(0.2268,0.25)">Total GST Amount</span>
<span class="t" style="left:688.60px;top:416.58px;font-size:23.20px;color:#1f1f1f;transform:scale(0.1964,0.25)">7,980</span>
<span class="t" style="left:711.40px;top:408.65px;font-size:19.60px;color:#555;transform:scale(0.2383,0.25)">Total Amount</span>
<span class="t" style="left:724.00px;top:416.58px;font-size:23.20px;color:#1f1f1f;transform:scale(0.2029,0.25)">61,230</span>
<span class="t" style="left:99.80px;top:428.98px;font-size:23.20px;color:#d4363a;font-weight:700;transform:scale(0.2132,0.25)">+ Create Purchase Request</span>
<svg class="r" style="left:393.20px;top:214.20px;" width="12" height="12" viewBox="-6.0 -6.0 12 12"><g transform="scale(1.22,1.0)"><path d="M-1.5,-4.2 A.85,.85 0 0 1 0.2,-4.2 L0.2,-1.4 L0.6,-1.7 A.7,.7 0 0 1 1.7,-1.3 A.7,.7 0 0 1 2.8,-0.9 A.7,.7 0 0 1 3.9,-0.3 L3.9,1.8 A3,3 0 0 1 1,4.4 L-0.2,4.4 A3,3 0 0 1 -2.5,3.1 L-4,0.6 A.8,.8 0 0 1 -2.7,-0.2 L-1.5,1 Z" fill="#f7dfbf" stroke="#3a3a3a" stroke-width=".8" stroke-linejoin="round"/><path d="M-1.8,3.6 L2.6,3.6" stroke="#f0a0a8" stroke-width=".9"/></g></svg>
</div>
</body>
</html>
